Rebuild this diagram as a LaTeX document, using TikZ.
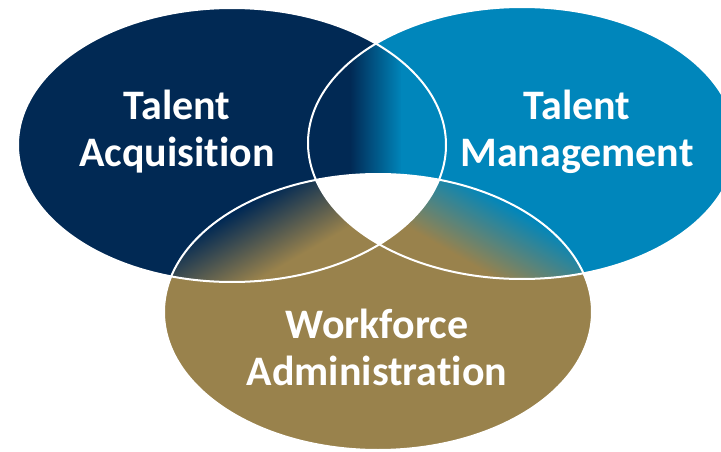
\documentclass[tikz,border=0pt]{standalone}
\usepackage{fontspec}
\setmainfont[Ligatures=NoCommon]{Carlito}
\definecolor{navy}{RGB}{1,41,84}
\definecolor{tmblue}{RGB}{0,134,187}
\definecolor{gold}{RGB}{153,130,76}
\begin{document}
\begin{tikzpicture}[x=1pt,y=1pt]
\useasboundingbox (0,0) rectangle (721,-452);
\clip (0,0) rectangle (721,-452);
\coordinate (cL) at (232,-145);
\coordinate (cR) at (522,-143);
\coordinate (cB) at (378,-312);
\tikzset{
  elL/.style={insert path={(cL) ellipse [x radius=214pt, y radius=137pt]}},
  elR/.style={insert path={(cR) ellipse [x radius=214pt, y radius=136pt]}},
  elB/.style={insert path={(cB) ellipse [x radius=214pt, y radius=138pt]}},
  outline/.style={draw=white, line width=2pt},
  lbl/.style={text=white, font=\fontsize{42}{46}\selectfont\bfseries, anchor=base, inner sep=0pt}
}
% base ellipses
\fill[navy, elL];
\fill[tmblue, elR];
\fill[gold, elB];
% left-right lens
\begin{scope}
  \clip[elL]; \clip[elR];
  \fill[navy] (290,0) rectangle (351,-300);
  \shade[left color=navy, right color=tmblue] (350,0) rectangle (402,-300);
  \fill[tmblue] (401,0) rectangle (470,-300);
\end{scope}
% left-bottom lens
\begin{scope}
  \clip[elL]; \clip[elB];
  \fill[gold] (100,-150) rectangle (460,-330);
  \begin{scope}[transform canvas={shift={(300,-255)}, rotate=30}]
    \shade[bottom color=gold, top color=navy] (-260,0) rectangle (260,70);
    \fill[navy] (-260,69.5) rectangle (260,300);
  \end{scope}
\end{scope}
% right-bottom lens
\begin{scope}
  \clip[elR]; \clip[elB];
  \fill[gold] (290,-150) rectangle (660,-330);
  \begin{scope}[transform canvas={shift={(456,-255)}, rotate=-30}]
    \shade[bottom color=gold, top color=tmblue] (-260,0) rectangle (260,70);
    \fill[tmblue] (-260,69.5) rectangle (260,300);
  \end{scope}
\end{scope}
% triple intersection
\begin{scope}
  \clip[elL]; \clip[elR];
  \fill[white, elB];
\end{scope}
% outlines
\path[outline, elL];
\path[outline, elR];
\path[outline, elB];
% labels
\node[lbl] (ta1) at (177,-120) {Talent};
\node[lbl] (ta2) at (177,-166) {Acquisition};
\node[lbl] (tm1) at (577,-120) {Talent};
\node[lbl] (tm2) at (577,-166) {Management};
\node[lbl] (wa1) at (377,-338) {Workforce};
\node[lbl] (wa2) at (377,-385) {Administration};
\end{tikzpicture}
\end{document}
